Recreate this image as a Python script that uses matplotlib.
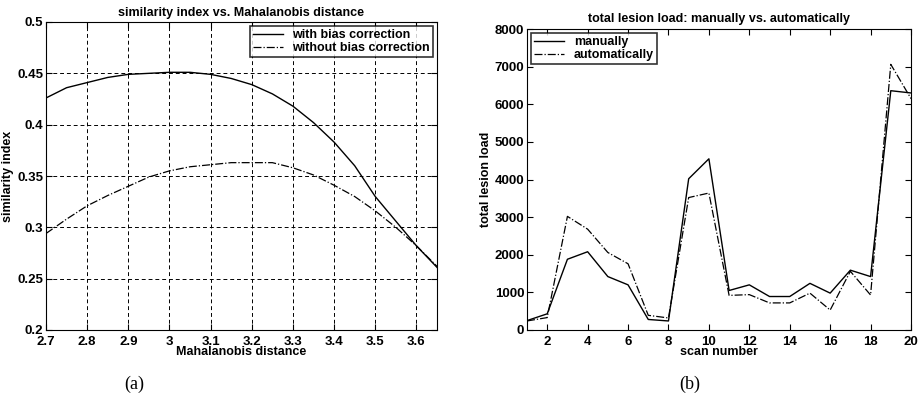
import matplotlib.pyplot as plt
import numpy as np

# left panel: similarity index vs Mahalanobis distance
maha_dist = [2.7, 2.75, 2.8, 2.85, 2.9, 2.95, 3.0, 3.05, 3.1, 3.15,
             3.2, 3.25, 3.3, 3.35, 3.4, 3.45, 3.5, 3.55, 3.6, 3.65]
with_bias = [0.426, 0.436, 0.441, 0.446, 0.449, 0.450, 0.451, 0.451, 0.449, 0.445,
             0.439, 0.430, 0.418, 0.402, 0.383, 0.360, 0.330, 0.306, 0.282, 0.261]
without_bias = [0.294, 0.308, 0.321, 0.331, 0.340, 0.349, 0.355, 0.359, 0.361, 0.363,
                0.363, 0.363, 0.358, 0.351, 0.341, 0.330, 0.316, 0.300, 0.282, 0.262]

# right panel: total lesion load per scan
scan_number = list(range(1, 21))
manually = [250, 430, 1880, 2080, 1420, 1200, 280, 240, 4020, 4550,
            1050, 1200, 890, 890, 1240, 980, 1590, 1420, 6360, 6300]
automatically = [240, 330, 3020, 2680, 2060, 1760, 390, 320, 3520, 3640,
                 920, 940, 720, 720, 980, 530, 1560, 930, 7060, 6150]

plt.rcParams['font.family'] = ['Liberation Sans', 'DejaVu Sans']
plt.rcParams['font.weight'] = 'bold'
plt.rcParams['axes.labelweight'] = 'bold'
plt.rcParams['axes.titleweight'] = 'bold'
plt.rcParams['xtick.direction'] = 'in'
plt.rcParams['ytick.direction'] = 'in'

W, H = 918, 408
fig = plt.figure(figsize=(W / 100, H / 100), dpi=100)

# axes positions in pixels (left, top, right, bottom)
def px_axes(l, t, r, b):
    return fig.add_axes([l / W, 1 - b / H, (r - l) / W, (b - t) / H])

ax1 = px_axes(46, 22, 437, 330)
ax1.plot(maha_dist, with_bias, 'k-', lw=1.0, label='with bias correction')
ax1.plot(maha_dist, without_bias, 'k-.', lw=0.9, label='without bias correction')
ax1.set_xlim(2.7, 3.65)
ax1.set_ylim(0.2, 0.5)
ax1.set_xticks(np.arange(2.7, 3.65, 0.1))
ax1.set_xticklabels(['2.7', '2.8', '2.9', '3', '3.1', '3.2', '3.3', '3.4', '3.5', '3.6'])
ax1.set_yticks([0.2, 0.25, 0.3, 0.35, 0.4, 0.45, 0.5])
ax1.set_yticklabels(['0.2', '0.25', '0.3', '0.35', '0.4', '0.45', '0.5'])
ax1.grid(True, color='k', linestyle=(0, (4, 3)), lw=0.7)
ax1.set_title('similarity index vs. Mahalanobis distance', fontsize=9, pad=4)
ax1.set_xlabel('Mahalanobis distance', fontsize=9, labelpad=-1)
ax1.set_ylabel('similarity index', fontsize=9, labelpad=2)
leg1 = ax1.legend(loc='upper right', fontsize=9, frameon=True, fancybox=False,
                  edgecolor='k', borderaxespad=0.35, handlelength=2.4,
                  borderpad=0.2, labelspacing=0.1)
leg1.get_frame().set_linewidth(1.2)

ax2 = px_axes(527, 29, 911, 330)
ax2.plot(scan_number, manually, 'k-', lw=1.0, label='manually')
ax2.plot(scan_number, automatically, 'k-.', lw=0.9, label='automatically')
ax2.set_xlim(1, 20)
ax2.set_ylim(0, 8000)
ax2.set_xticks(range(2, 21, 2))
ax2.set_yticks(range(0, 8001, 1000))
ax2.set_title('total lesion load: manually vs. automatically', fontsize=9, pad=5)
ax2.set_xlabel('scan number', fontsize=9, labelpad=-1)
ax2.set_ylabel('total lesion load', fontsize=9, labelpad=2)
leg2 = ax2.legend(loc='upper left', fontsize=9, frameon=True, fancybox=False,
                  edgecolor='k', borderaxespad=0.35, handlelength=2.4,
                  borderpad=0.2, labelspacing=0.1)
leg2.get_frame().set_linewidth(1.2)

for ax in (ax1, ax2):
    ax.tick_params(labelsize=9.5, length=4, top=True, right=True, pad=2)
    ax.tick_params(axis='x', pad=4)
    for s in ax.spines.values():
        s.set_linewidth(0.8)

fig.text(134 / W, 1 - 384 / H, '(a)', ha='center', va='center',
         fontsize=13, fontweight='normal', family=['Liberation Serif'])
fig.text(690 / W, 1 - 384 / H, '(b)', ha='center', va='center',
         fontsize=13, fontweight='normal', family=['Liberation Serif'])

fig.savefig('out.png', dpi=100)
